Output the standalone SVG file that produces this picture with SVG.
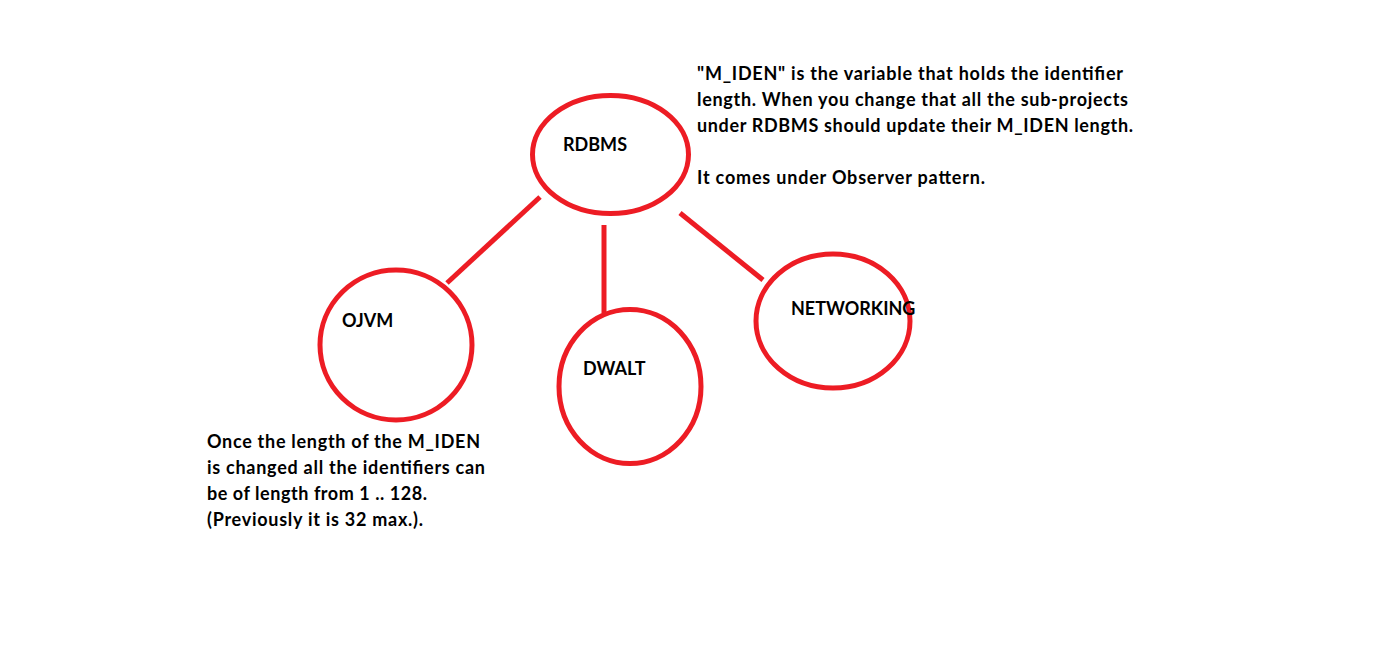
<svg xmlns="http://www.w3.org/2000/svg" width="1393" height="653" viewBox="0 0 1393 653">
<style>
.n{fill:none;stroke:#ED1C24;stroke-width:5}
.c{stroke:#ED1C24;stroke-width:5;fill:none}
text{font-family:Lato,"Liberation Sans",sans-serif;font-weight:bold;font-size:18px;fill:#000}
</style>
<rect width="1393" height="653" fill="#fff"/>
<g id="connectors">
<line class="c" x1="540" y1="197" x2="447" y2="283"/>
<line class="c" x1="604" y1="225" x2="604" y2="313"/>
<line class="c" x1="680" y1="213" x2="763" y2="280"/>
</g>
<g id="rdbms"><ellipse class="n" cx="610.5" cy="154.5" rx="78" ry="59"/><text x="563" y="151">RDBMS</text></g>
<g id="ojvm"><ellipse class="n" cx="396" cy="345" rx="76" ry="75"/><text x="342" y="327">OJVM</text></g>
<g id="dwalt"><ellipse class="n" cx="630" cy="386.5" rx="71" ry="77"/><text x="583" y="375">DWALT</text></g>
<g id="networking"><ellipse class="n" cx="833" cy="321" rx="77" ry="67"/><text x="791" y="315">NETWORKING</text></g>
<g id="note-top">
<text x="697" y="80" textLength="426" lengthAdjust="spacing">"M_IDEN" is the variable that holds the identifier</text>
<text x="697" y="106" textLength="431" lengthAdjust="spacing">length. When you change that all the sub-projects</text>
<text x="697" y="132" textLength="436" lengthAdjust="spacing">under RDBMS should update their M_IDEN length.</text>
<text x="697" y="184" textLength="288" lengthAdjust="spacing">It comes under Observer pattern.</text>
</g>
<g id="note-bottom">
<text x="207" y="448" textLength="273" lengthAdjust="spacing">Once the length of the M_IDEN</text>
<text x="207" y="474" textLength="278" lengthAdjust="spacing">is changed all the identifiers can</text>
<text x="207" y="500" textLength="220" lengthAdjust="spacing">be of length from 1 .. 128.</text>
<text x="207" y="526" textLength="216" lengthAdjust="spacing">(Previously it is 32 max.).</text>
</g>
</svg>
